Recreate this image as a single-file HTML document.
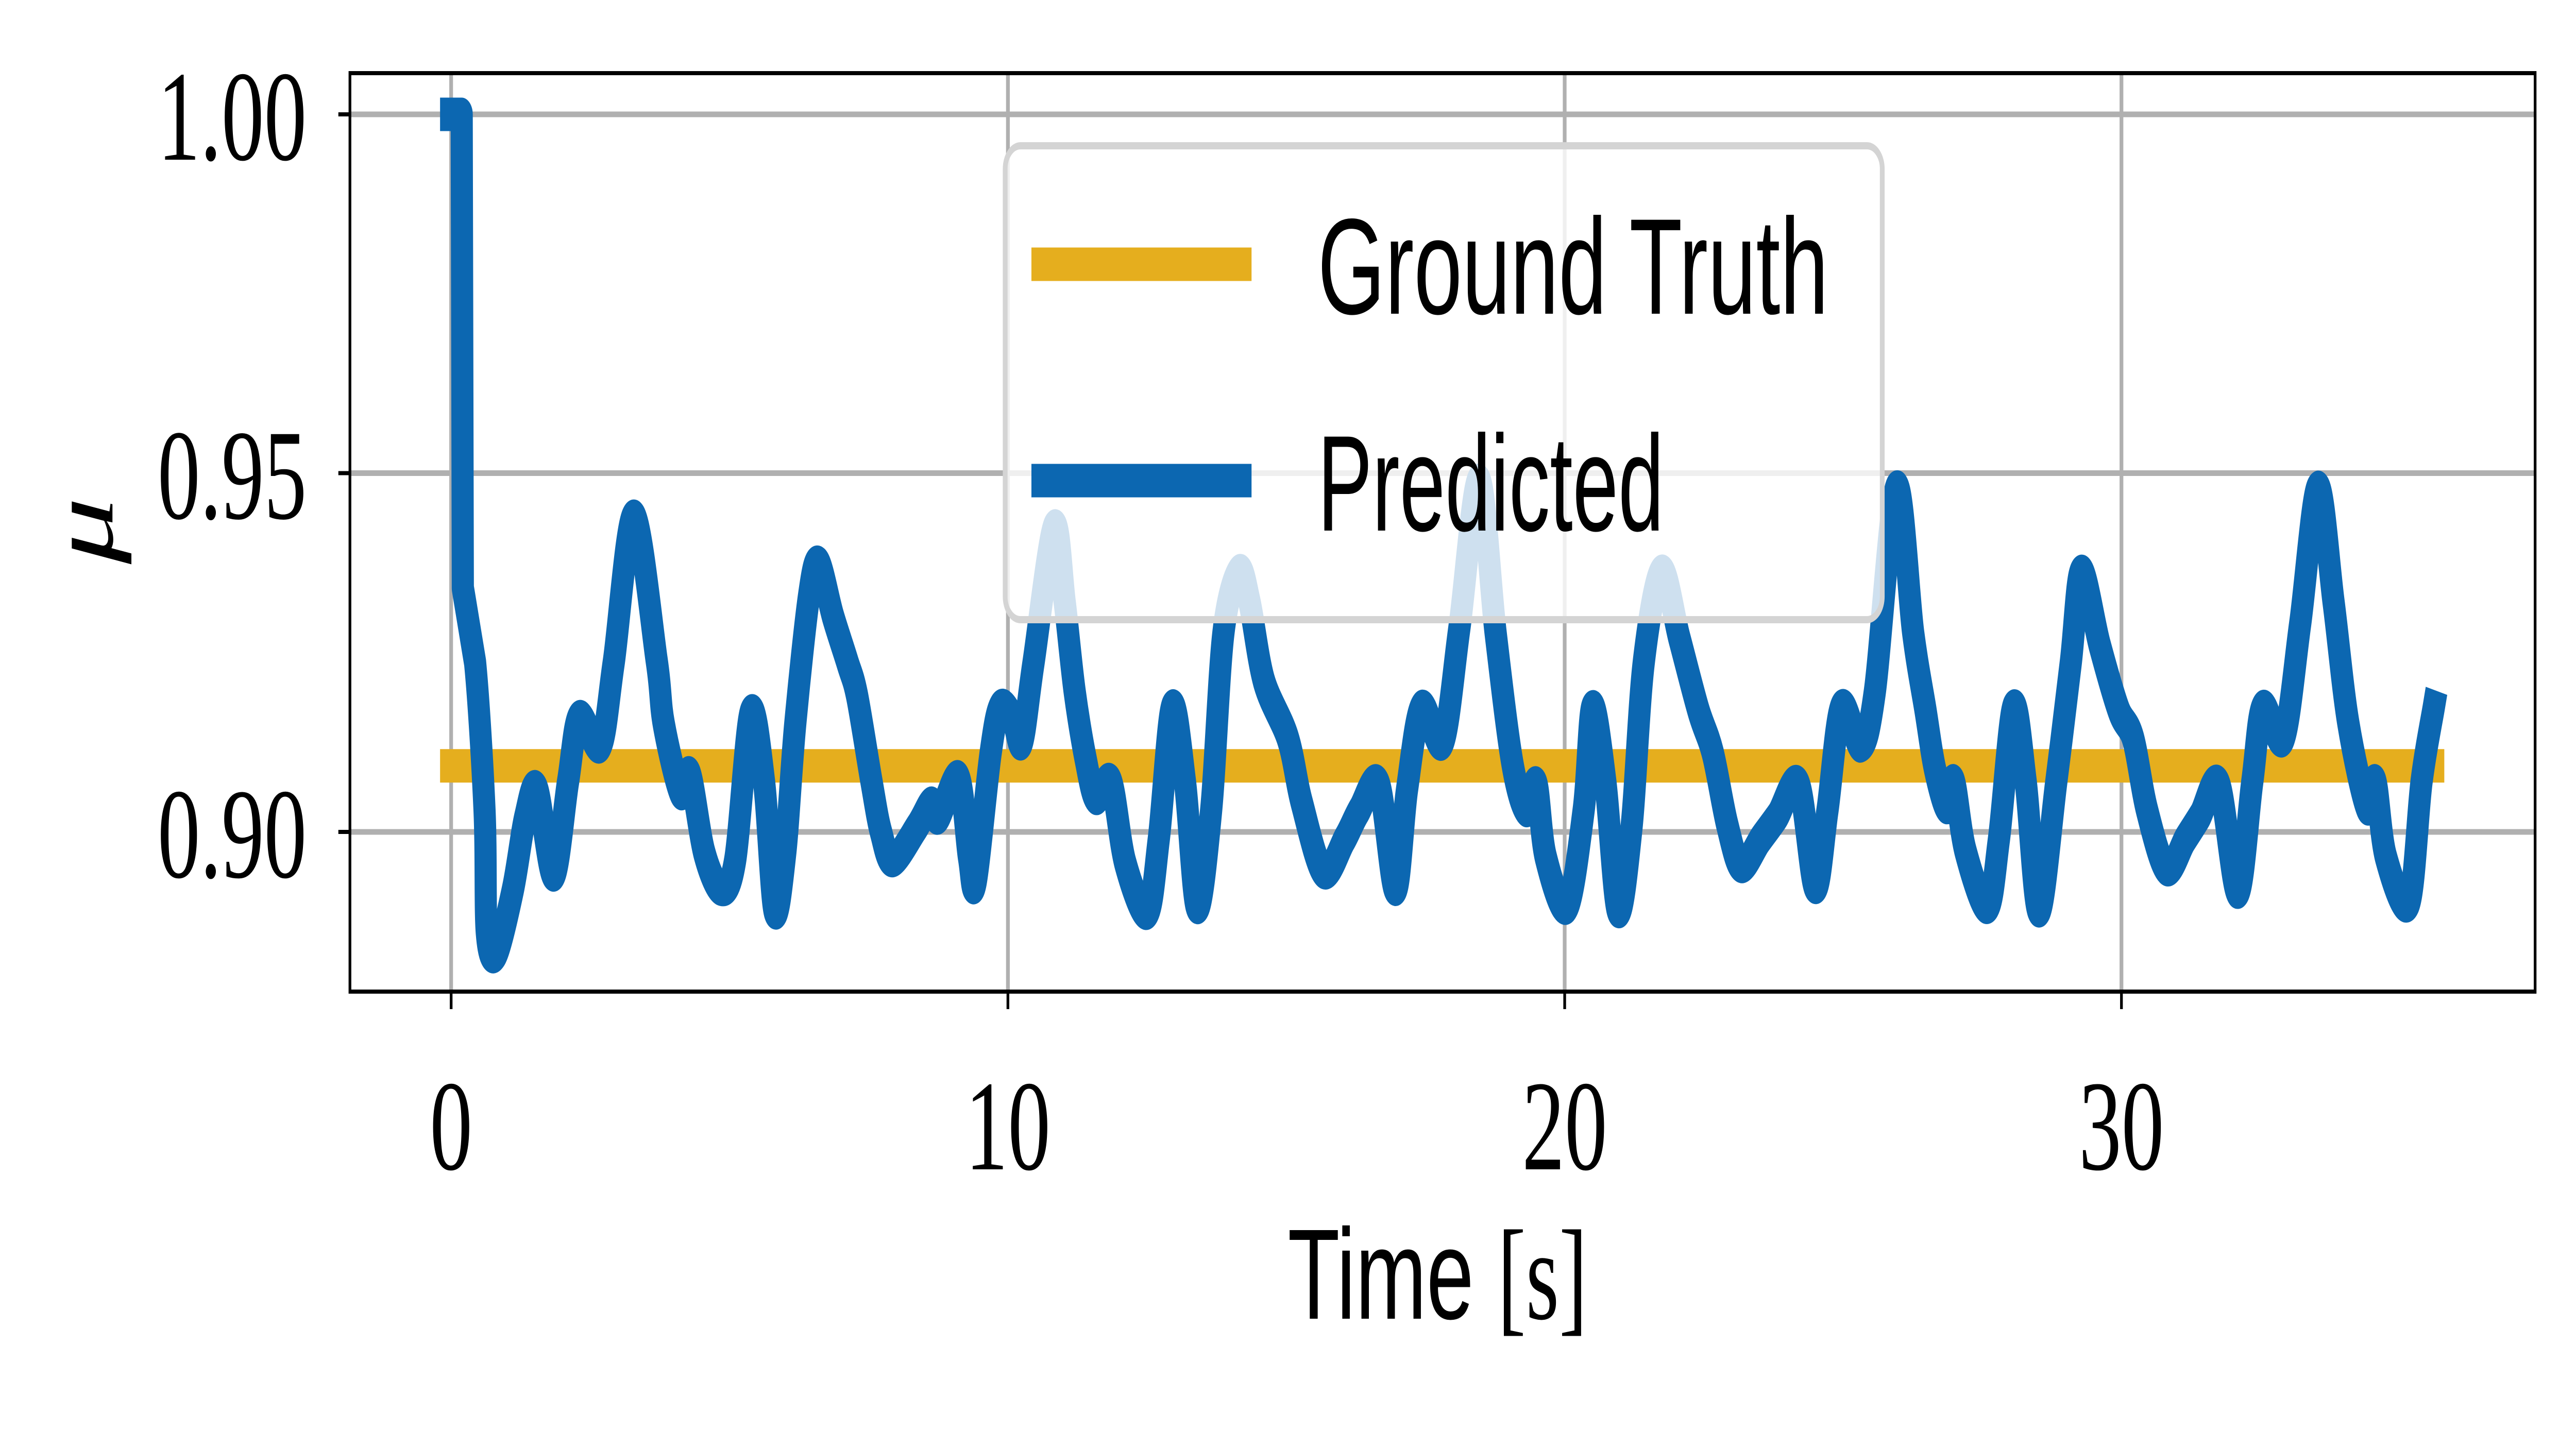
<!DOCTYPE html>
<html><head><meta charset="utf-8"><style>
html,body{margin:0;padding:0;background:#fff;overflow:hidden;width:100%;height:100%;}
svg{display:block;width:100vw;height:100vh;}
</style></head><body>
<svg id="chart" viewBox="0 0 7560 2778" preserveAspectRatio="none" xmlns="http://www.w3.org/2000/svg">
<rect width="7560" height="2778" fill="#fff"/>
<g id="grid"></g>
<g id="series"></g>
<g id="axes"></g>
<text x="4219" y="2560" font-family="'Liberation Sans', sans-serif" font-size="250" text-anchor="middle">Time <tspan font-family="'Liberation Serif', serif">[s]</tspan></text>
<text transform="translate(330,1030) rotate(-90)" font-family="'Liberation Serif', serif" font-style="italic" font-size="260" text-anchor="middle">μ</text>
<g>
<rect x="2950" y="283" width="2574" height="920" rx="45" ry="45" fill="#fff" fill-opacity="0.8" stroke="#d4d4d4" stroke-width="14"/>
<line x1="3027" y1="513" x2="3673" y2="513" stroke="#e5ae1e" stroke-width="65"/>
<line x1="3027" y1="933" x2="3673" y2="933" stroke="#0c67b1" stroke-width="65"/>
<text x="3867" y="609" font-family="'Liberation Sans', sans-serif" font-size="265" textLength="1499" lengthAdjust="spacingAndGlyphs">Ground Truth</text>
<text x="3867" y="1030" font-family="'Liberation Sans', sans-serif" font-size="265" textLength="1016" lengthAdjust="spacingAndGlyphs">Predicted</text>
</g>
</svg>
<script>
const xTicks = [0, 10, 20, 30];
const yTicks = [0.90, 0.95, 1.00];
const yTickLabels = ["0.90", "0.95", "1.00"];
const truthTime = [0, 35.6];
const truthValue = [0.9092, 0.9092];
const predTime = [0,0.19,0.21,0.43,0.60,0.64,0.81,1.11,1.33,1.54,1.84,2.1,2.3,2.68,2.92,3.28,3.69,3.82,4.12,4.29,4.55,4.85,5.1,5.38,5.62,5.81,6.0,6.18,6.43,6.6,6.86,7.12,7.29,7.55,7.72,7.93,8.36,8.62,8.75,9.11,9.3,9.42,9.69,9.86,10.08,10.25,10.46,10.83,11.02,11.2,11.4,11.58,11.85,12.11,12.5,12.71,12.95,13.18,13.4,13.65,13.87,14.15,14.34,14.6,15.03,15.28,15.67,16.05,16.31,16.66,16.96,17.17,17.43,17.81,18.11,18.46,18.76,19.06,19.31,19.49,19.66,20.04,20.34,20.5,20.73,20.96,21.2,21.42,21.74,22.06,22.4,22.66,22.92,23.17,23.52,23.82,24.2,24.5,24.72,24.97,25.32,25.57,25.96,26.26,26.48,26.65,26.86,26.99,27.2,27.59,27.8,28.06,28.28,28.52,28.83,29.09,29.28,29.61,29.95,30.21,30.46,30.81,31.15,31.41,31.75,32.09,32.35,32.54,32.91,33.21,33.53,33.81,34.07,34.41,34.56,34.75,35.16,35.39,35.61];
const predValue = [1.0,1.0,0.934,0.9236,0.903,0.886,0.883,0.892,0.902,0.906,0.894,0.907,0.916,0.912,0.9236,0.944,0.924,0.915,0.9055,0.908,0.897,0.892,0.896,0.9166,0.907,0.889,0.897,0.915,0.933,0.9375,0.930,0.9236,0.919,0.907,0.900,0.896,0.9006,0.904,0.902,0.9076,0.8965,0.893,0.911,0.9174,0.916,0.9125,0.9236,0.9425,0.932,0.9195,0.910,0.9047,0.907,0.8956,0.8887,0.899,0.9174,0.907,0.8895,0.903,0.9277,0.9363,0.932,0.921,0.913,0.904,0.8944,0.899,0.903,0.9067,0.892,0.906,0.9174,0.9125,0.9285,0.949,0.9277,0.9096,0.903,0.9067,0.8965,0.8895,0.903,0.9174,0.907,0.889,0.9006,0.9236,0.9363,0.927,0.917,0.911,0.901,0.8952,0.899,0.9022,0.9067,0.8923,0.903,0.9174,0.912,0.9195,0.948,0.9277,0.917,0.9088,0.9034,0.907,0.8973,0.8895,0.899,0.9174,0.907,0.889,0.907,0.9236,0.9363,0.926,0.917,0.913,0.903,0.8948,0.899,0.9022,0.9067,0.8916,0.907,0.9174,0.913,0.929,0.948,0.932,0.9154,0.9034,0.907,0.8965,0.890,0.907,0.9174];

const L = 1027, R = 7440, T = 142, B = 1925;
const NS = "http://www.w3.org/2000/svg";
function xs(t){ return 1324 + t * 163.4; }
function ys(v){ return 1615 - (v - 0.90) / 0.10 * 1393; }
function el(tag, attrs, parent){ const e = document.createElementNS(NS, tag); for (const k in attrs) e.setAttribute(k, attrs[k]); parent.appendChild(e); return e; }
const grid = document.getElementById('grid');
const axes = document.getElementById('axes');
const series = document.getElementById('series');
xTicks.forEach(function(t){
  const g = el('line', {x1: xs(t), x2: xs(t), y1: T, y2: B, stroke: '#b0b0b0', 'stroke-width': 11}, grid);
  
  
  const tk = el('line', {x1: xs(t), x2: xs(t), y1: B, y2: B + 34, stroke: '#000', 'stroke-width': 8}, axes);
  
  
  const lb = el('text', {x: xs(t), y: 2270, 'text-anchor': 'middle', 'font-family': "'Liberation Serif', serif", 'font-size': 250}, axes);
  lb.textContent = String(t);
  
  
});
yTicks.forEach(function(v, i){
  const g = el('line', {x1: L, x2: R, y1: ys(v), y2: ys(v), stroke: '#b0b0b0', 'stroke-width': 11}, grid);
  
  
  const tk = el('line', {x1: L - 34, x2: L, y1: ys(v), y2: ys(v), stroke: '#000', 'stroke-width': 8}, axes);
  
  
  const lb = el('text', {x: 900, y: ys(v) + 88, 'text-anchor': 'end', 'font-family': "'Liberation Serif', serif", 'font-size': 250}, axes);
  lb.textContent = yTickLabels[i];
  
  
});
const frame = el('rect', {x: L, y: T, width: R - L, height: B - T, fill: 'none', stroke: '#000', 'stroke-width': 8}, axes);


function pathFrom(ts, vs){ return ts.map(function(t, i){ return (i ? 'L' : 'M') + xs(t).toFixed(1) + ' ' + ys(vs[i]).toFixed(1); }).join(' '); }
function smoothPath(ts, vs){
  const p = ts.map(function(t, i){ return [xs(t), ys(vs[i])]; });
  let d = 'M' + p[0][0].toFixed(1) + ' ' + p[0][1].toFixed(1);
  for (let i = 0; i < p.length - 1; i++) {
    const p0 = p[Math.max(0, i - 1)], p1 = p[i], p2 = p[i + 1], p3 = p[Math.min(p.length - 1, i + 2)];
    const k = (i < 3) ? 0 : 0.16;
    const c1x = p1[0] + (p2[0] - p0[0]) * k, c1y = p1[1] + (p2[1] - p0[1]) * k;
    const c2x = p2[0] - (p3[0] - p1[0]) * k, c2y = p2[1] - (p3[1] - p1[1]) * k;
    d += ' C' + c1x.toFixed(1) + ' ' + c1y.toFixed(1) + ' ' + c2x.toFixed(1) + ' ' + c2y.toFixed(1) + ' ' + p2[0].toFixed(1) + ' ' + p2[1].toFixed(1);
  }
  return d;
}
const gt = el('path', {d: pathFrom(truthTime, truthValue), fill: 'none', stroke: '#e5ae1e', 'stroke-width': 65, 'stroke-linecap': 'square'}, series);


const pr = el('path', {d: smoothPath(predTime, predValue), fill: 'none', stroke: '#0c67b1', 'stroke-width': 65, 'stroke-linecap': 'square', 'stroke-linejoin': 'round'}, series);


</script>
</body></html>
